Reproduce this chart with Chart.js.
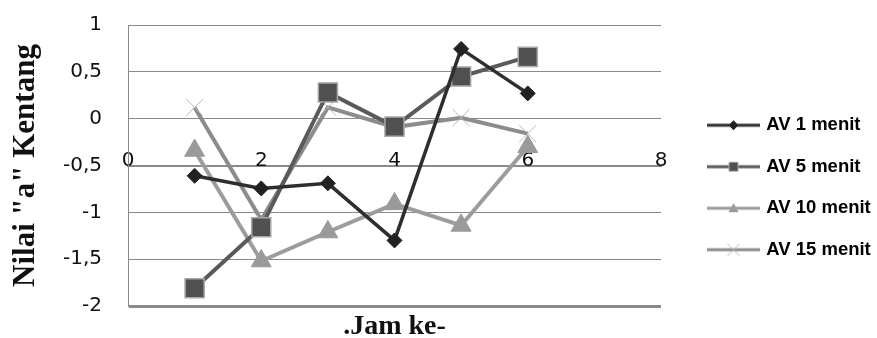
<!DOCTYPE html>
<html><head><meta charset="utf-8">
<script src="https://cdn.jsdelivr.net/npm/chart.js@4/dist/chart.umd.min.js"></script>
<style>html,body{margin:0;padding:0;background:#fff}#wrap{width:877px;height:338px;position:relative}</style>
</head><body><div id="wrap"><canvas id="c" width="877" height="338"></canvas></div>
<script>
// ---- data ----
const jam = [1, 2, 3, 4, 5, 6];
const av1 = [-0.61, -0.745, -0.69, -1.30, 0.745, 0.27];
const av5 = [-1.81, -1.16, 0.28, -0.085, 0.45, 0.66];
const av10 = [-0.34, -1.52, -1.21, -0.91, -1.14, -0.30];
const av15 = [0.12, -1.08, 0.12, -0.09, 0.01, -0.16];
const seriesNames = ['AV 1 menit', 'AV 5 menit', 'AV 10 menit', 'AV 15 menit'];
const xTicks = [0, 2, 4, 6, 8];
const yTicks = [1, 0.5, 0, -0.5, -1, -1.5, -2];
const yTitle = 'Nilai "a" Kentang';
const xTitle = '.Jam ke-';

// ---- styles ----
const styles = [
  {line: '#2e2e2e', w: 3.5, ps: 'rectRot', r: 7.5, fill: '#222', border: '#222', bw: 1},
  {line: '#5a5a5a', w: 4, ps: 'rect', r: 13.5, fill: '#505050', border: '#a8a8a8', bw: 1.5},
  {line: '#9c9c9c', w: 4, ps: 'triangle', r: 11.5, fill: '#9a9a9a', border: '#9a9a9a', bw: 1},
  {line: '#8c8c8c', w: 4, ps: 'crossRot', r: 12, fill: '#b8b8b8', border: '#b8b8b8', bw: 1}
];
const seriesVals = [av1, av5, av10, av15];

function legendImage(s) {
  const cv = document.createElement('canvas');
  cv.width = 79; cv.height = 22;
  const c = cv.getContext('2d');
  const cy = 11, cx = 52.5;
  c.strokeStyle = s.line; c.lineWidth = 3;
  c.beginPath(); c.moveTo(26, cy); c.lineTo(79, cy); c.stroke();
  c.fillStyle = s.fill; c.strokeStyle = s.border; c.lineWidth = 1;
  c.beginPath();
  if (s.ps === 'rectRot') {
    c.moveTo(cx - 4.5, cy); c.lineTo(cx, cy - 4.5); c.lineTo(cx + 4.5, cy); c.lineTo(cx, cy + 4.5); c.closePath();
    c.fill(); c.stroke();
  } else if (s.ps === 'rect') {
    c.rect(cx - 4.5, cy - 4.5, 9, 9); c.fill(); c.stroke();
  } else if (s.ps === 'triangle') {
    c.moveTo(cx, cy - 5); c.lineTo(cx + 5, cy + 4); c.lineTo(cx - 5, cy + 4); c.closePath(); c.fill();
  } else {
    c.strokeStyle = s.border; c.lineWidth = 1;
    c.moveTo(cx - 6, cy - 6); c.lineTo(cx + 6, cy + 6); c.moveTo(cx + 6, cy - 6); c.lineTo(cx - 6, cy + 6); c.stroke();
  }
  return cv;
}
const legendImgs = styles.map(legendImage);

const datasets = seriesNames.map((name, i) => {
  const s = styles[i];
  return {
    label: name,
    data: jam.map((x, k) => ({x: x, y: seriesVals[i][k]})),
    borderColor: s.line, borderWidth: s.w, backgroundColor: s.fill,
    pointStyle: s.ps, pointRadius: s.r, pointHoverRadius: s.r,
    pointBackgroundColor: s.fill, pointBorderColor: s.border, pointBorderWidth: s.bw,
    tension: 0, fill: false, showLine: true
  };
});

const legendSizer = {
  id: 'legendSizer',
  beforeLayout(chart) {
    const lg = chart.legend;
    if (lg && !lg._patched) {
      const orig = lg.fit.bind(lg);
      lg.fit = function () { orig(); this.width = 216; };
      lg._patched = true;
    }
  },
  afterLayout(chart) {
    const lg = chart.legend;
    if (!lg) return;
    const dy = (116 - 23) - lg.top;
    lg.top += dy; lg.bottom += dy;
  }
};

new Chart(document.getElementById('c'), {
  type: 'scatter',
  data: {datasets},
  plugins: [legendSizer],
  options: {
    responsive: false, animation: false, devicePixelRatio: 1,
    layout: {autoPadding: false, padding: {top: 25, left: 0, right: 0, bottom: 0}},
    plugins: {
      tooltip: {enabled: false},
      legend: {
        position: 'right', align: 'start',
        labels: {
          usePointStyle: true, pointStyleWidth: 73, padding: 23,
          font: {family: 'Liberation Sans', size: 18.5, weight: 'bold'}, color: '#111',
          generateLabels: (chart) => chart.data.datasets.map((d, i) => ({
            text: d.label, pointStyle: legendImgs[i], fillStyle: d.borderColor,
            strokeStyle: d.borderColor, lineWidth: 0, hidden: false, datasetIndex: i
          }))
        }
      }
    },
    scales: {
      x: {
        type: 'linear', min: 0, max: 8, position: {y: -0.5},
        afterBuildTicks: (s) => { s.ticks = xTicks.map(v => ({value: v})); },
        ticks: {font: {family: 'DejaVu Sans', size: 20}, color: '#111', padding: -17, maxRotation: 0},
        grid: {display: false, drawTicks: false},
        border: {display: true, color: '#8a8a8a', width: 2}
      },
      x2: {
        type: 'linear', position: 'bottom', display: true,
        ticks: {display: false}, grid: {display: false, drawTicks: false}, border: {display: false},
        title: {display: true, text: xTitle, color: '#111', padding: 0,
          font: {family: 'Liberation Serif', size: 28, weight: 'bold', lineHeight: 0.8}},
        afterFit: (s) => { s.height = 32; }
      },
      y: {
        type: 'linear', min: -2, max: 1,
        afterBuildTicks: (s) => { s.ticks = yTicks.map(v => ({value: v})); },
        ticks: {font: {family: 'DejaVu Sans', size: 20}, color: '#111', padding: 0,
          callback: (v) => String(v).replace('.', ',')},
        grid: {color: '#8a8a8a', lineWidth: (ctx) => (ctx.tick && ctx.tick.value === -2 ? 3 : 1),
          drawTicks: true, tickLength: 26, tickColor: 'rgba(0,0,0,0)'},
        border: {display: true, color: '#8a8a8a', width: 1},
        title: {display: true, text: yTitle, color: '#111', padding: {top: 10, bottom: 0},
          font: {family: 'Liberation Serif', size: 31, weight: 'bold', lineHeight: 1}},
        afterFit: (s) => { s.width = 128; }
      }
    }
  }
});
</script>
</body></html>
